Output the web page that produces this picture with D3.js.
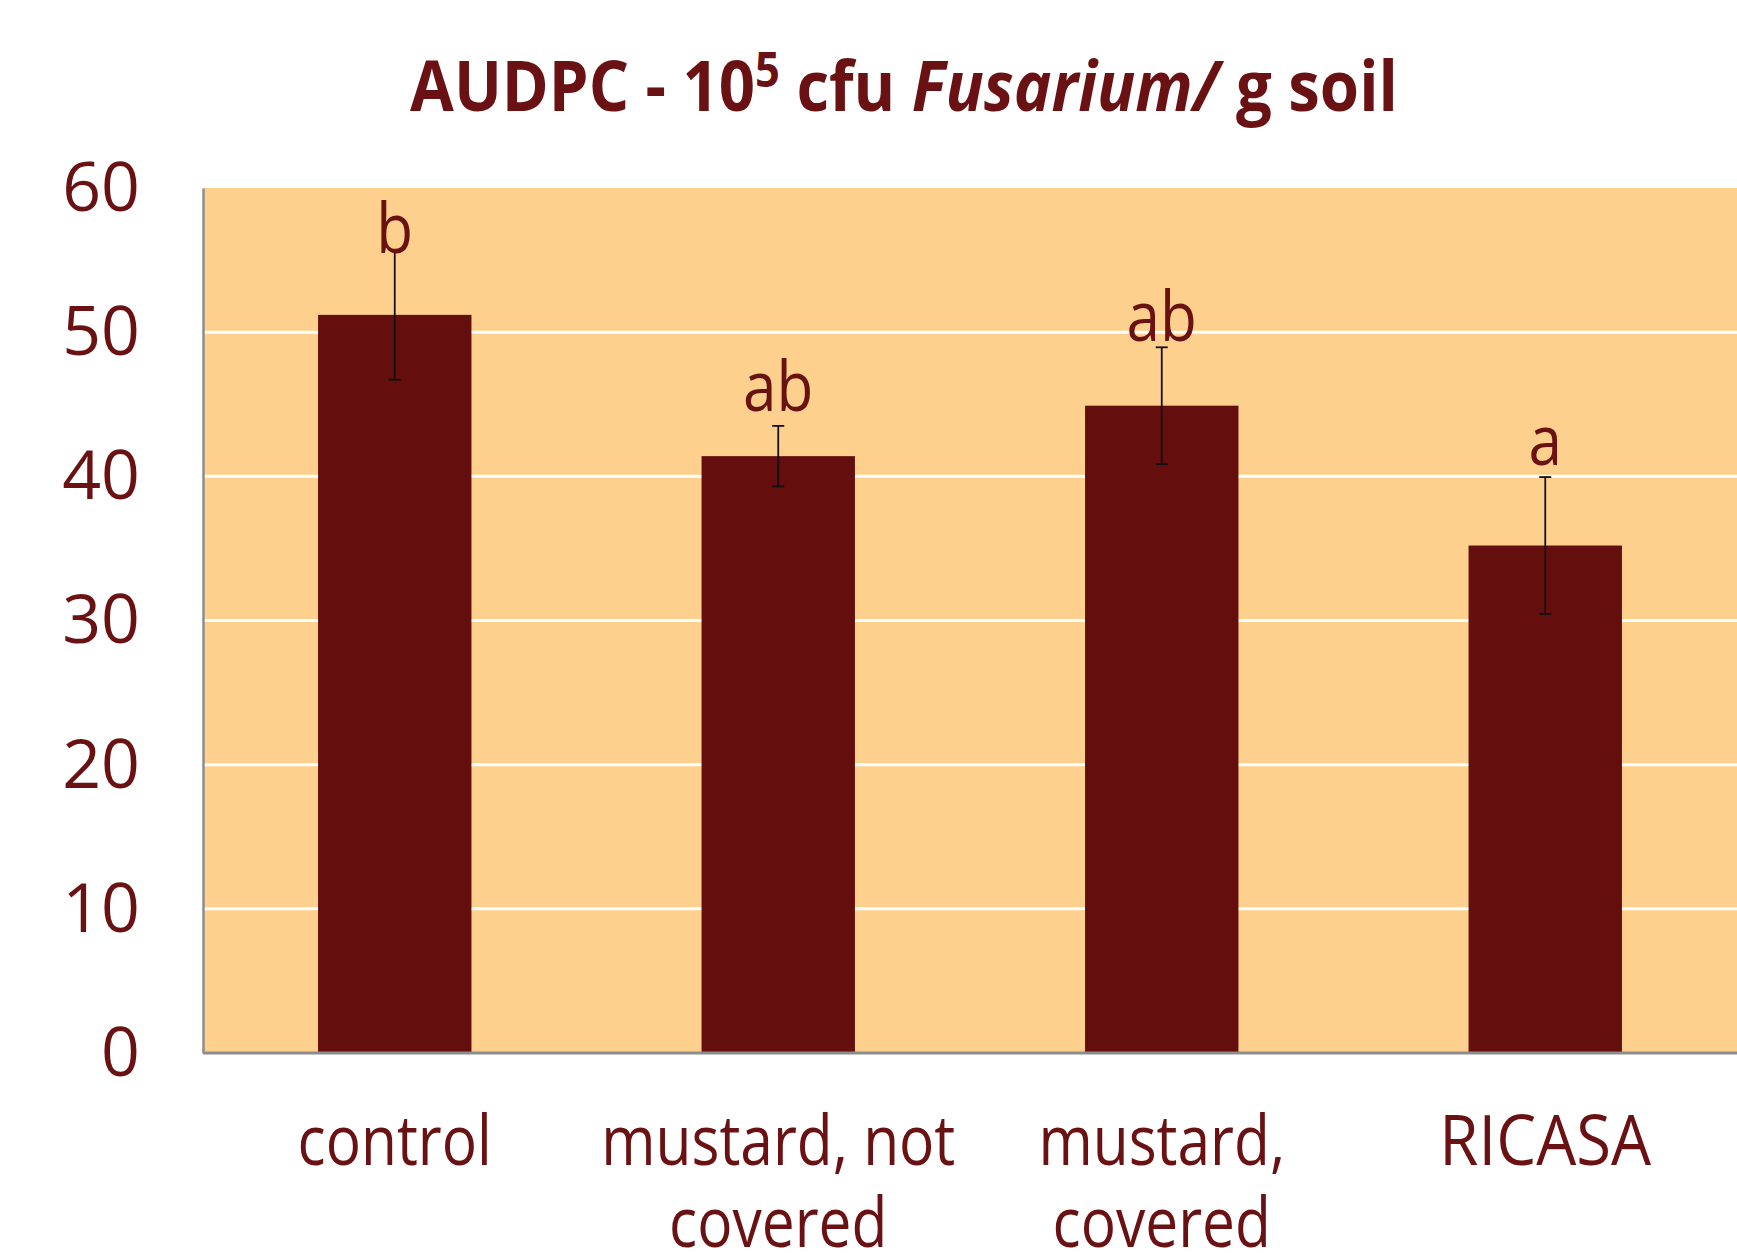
<!DOCTYPE html>
<html><head><meta charset="utf-8">
<script src="https://cdn.jsdelivr.net/npm/d3@7"></script>
<style>body{margin:0;background:#fff}</style>
</head><body>
<svg id="c" width="1737" height="1253"></svg>
<script>
// ---- data ----
const categories = ["control", "mustard, not covered", "mustard, covered", "RICASA"];
const categoryLines = [["control"], ["mustard, not", "covered"], ["mustard,", "covered"], ["RICASA"]];
const means = [51.2, 41.4, 44.9, 35.2];
const errors = [4.5, 2.1, 4.05, 4.75];
const letters = ["b", "ab", "ab", "a"];
const letterLevels = [55.5, 44.5, 49.4, 40.8];   // value at which each letter's baseline sits
const yTicks = [0, 10, 20, 30, 40, 50, 60];

// ---- layout ----
const plotLeft = 203, plotRight = 1737, plotTop = 188, plotBottom = 1053;
const textColor = "#6a1213", barColor = "#640e0e", bg = "#fdd08d";
const FONT = "'Open Sans', 'Noto Sans', sans-serif";

const svg = d3.select("#c");
const x = d3.scaleBand().domain(categories).range([plotLeft, plotRight]).paddingInner(0.6).paddingOuter(0.3);
const y = d3.scaleLinear().domain([0, 60]).range([plotBottom, plotTop]);

// background
svg.append("rect").attr("x", plotLeft).attr("y", y(60)).attr("width", plotRight - plotLeft).attr("height", y(0) - y(60)).attr("fill", bg);

// gridlines
svg.append("g").selectAll("line").data(yTicks.filter(t => t > 0 && t < 60)).join("line")
  .attr("x1", plotLeft).attr("x2", plotRight).attr("y1", d => y(d)).attr("y2", d => y(d))
  .attr("stroke", "#ffffff").attr("stroke-width", 3);

// bars
const data = categories.map((c, i) => ({c, m: means[i], e: errors[i], l: letters[i], ly: letterLevels[i], lines: categoryLines[i]}));
svg.append("g").selectAll("rect").data(data).join("rect")
  .attr("x", d => x(d.c)).attr("width", x.bandwidth())
  .attr("y", d => y(d.m)).attr("height", d => y(0) - y(d.m))
  .attr("fill", barColor);

// error bars
const eg = svg.append("g").attr("stroke", "#111").attr("stroke-width", 1.8);
data.forEach(d => {
  const cx = x(d.c) + x.bandwidth() / 2;
  eg.append("line").attr("x1", cx).attr("x2", cx).attr("y1", y(d.m + d.e)).attr("y2", y(d.m - d.e));
  [d.m + d.e, d.m - d.e].forEach(v => {
    eg.append("line").attr("x1", cx - 6).attr("x2", cx + 6).attr("y1", y(v)).attr("y2", y(v));
  });
});

// significance letters
svg.append("g").selectAll("text").data(data).join("text")
  .attr("transform", d => `translate(${x(d.c) + x.bandwidth() / 2},${y(d.ly)}) scale(0.86,1)`)
  .attr("text-anchor", "middle").attr("font-family", FONT).attr("font-size", 70)
  .attr("fill", textColor).text(d => d.l);

// y axis
const yAxis = svg.append("g").attr("transform", `translate(${plotLeft},0)`)
  .call(d3.axisLeft(y).tickValues(yTicks).tickSize(0).tickSizeOuter(0).tickPadding(63));
yAxis.select(".domain").attr("stroke", "#8d8d8d").attr("stroke-width", 2.5);
yAxis.selectAll("text").attr("font-family", FONT).attr("font-size", 68).attr("fill", textColor).attr("dy", "0.33em");

// x axis baseline
svg.append("line").attr("x1", plotLeft).attr("x2", plotRight).attr("y1", y(0)).attr("y2", y(0))
  .attr("stroke", "#8d8d8d").attr("stroke-width", 3);

// category labels
const cg = svg.append("g").selectAll("g").data(data).join("g");
cg.each(function(d) {
  const cx = x(d.c) + x.bandwidth() / 2;
  d3.select(this).selectAll("text").data(d.lines).join("text")
    .attr("transform", (t, j) => `translate(${cx},${1165 + j * 82}) scale(${d.c === "RICASA" ? 0.92 : 0.85},1)`)
    .attr("text-anchor", "middle").attr("font-family", FONT).attr("font-size", 69)
    .attr("fill", textColor).text(t => t);
});

// title
const title = svg.append("text").attr("font-family", FONT).attr("font-weight", 700)
  .attr("font-size", 70).attr("fill", textColor).attr("text-anchor", "middle");
title.append("tspan").text("AUDPC - 10");
title.append("tspan").attr("font-size", 48).attr("dy", -24).text("5");
title.append("tspan").attr("dy", 24).text(" cfu ");
title.append("tspan").attr("font-style", "italic").text("Fusarium/");
title.append("tspan").text(" g soil");
const tw = title.node().getComputedTextLength();
const sx = 988 / tw;
title.attr("transform", `translate(904,111) scale(${sx},1)`);
</script>
</body></html>
